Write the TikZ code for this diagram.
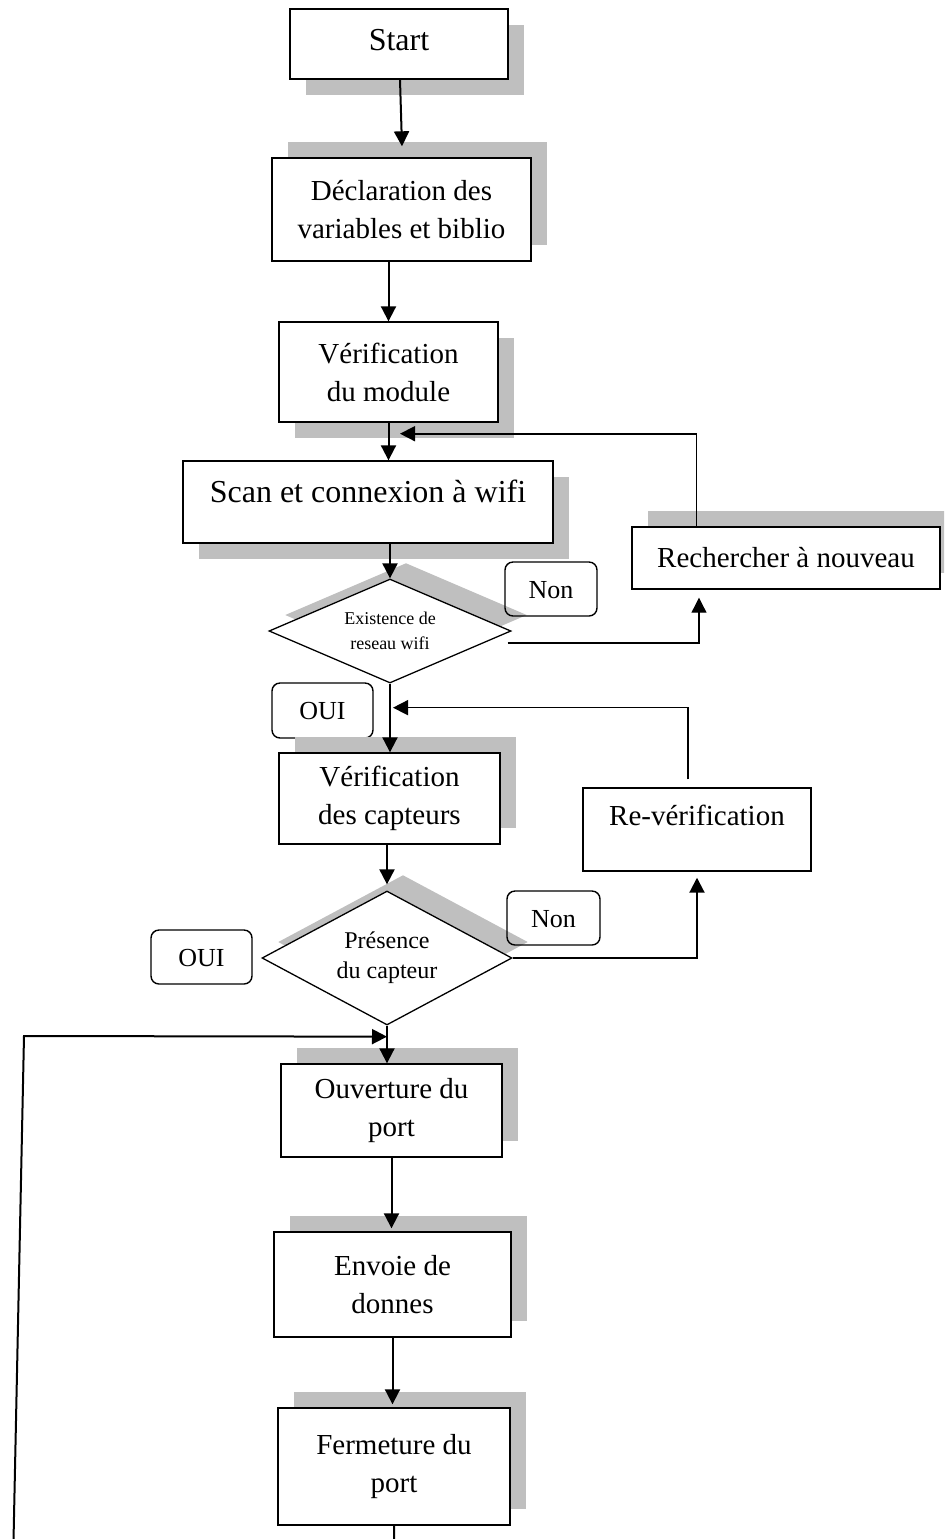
\documentclass[tikz,border=0pt]{standalone}
\usepackage{fontspec}
\setmainfont{Liberation Serif}
\usetikzlibrary{shapes.geometric,shadows,arrows.meta,calc}
\definecolor{shadowgray}{RGB}{191,191,191}

\begin{document}
\begin{tikzpicture}[x=0.5pt,y=-0.5pt,
  box/.style={draw, line width=0.7pt, fill=white, inner sep=0pt, align=center,
    font=\fontsize{14.5}{19}\selectfont},
  bigtext/.style={font=\fontsize{16}{19}\selectfont},
  shup/.style={drop shadow={shadow xshift=8pt, shadow yshift=8pt, fill=shadowgray, opacity=1}},
  shdown/.style={drop shadow={shadow xshift=8pt, shadow yshift=-7.75pt, fill=shadowgray, opacity=1}},
  decision/.style={diamond, draw, line width=0.65pt, fill=white, inner sep=0pt, align=center},
  tag/.style={draw, rounded corners=4pt, line width=0.7pt, inner sep=0pt,
    font=\fontsize{13}{15}\selectfont, text height=9pt, text depth=0pt},
  flow/.style={-{Triangle[length=7.5pt,width=7.5pt]}, line width=1pt},
  back/.style={-{Triangle[length=7.5pt,width=7.5pt]}, line width=0.8pt},
  branch/.style={-{Triangle[length=7.5pt,width=7.5pt]}, line width=0.6pt},
]
\useasboundingbox (0,0) rectangle (944,1539);
\clip (0,0) rectangle (944,1539);

% process boxes
\node[box, bigtext, shdown, minimum width=109pt, minimum height=35pt,
      text height=8pt, text depth=2pt] (start) at (399,44) {Start};
\node[box, shup, minimum width=129.5pt, minimum height=51.5pt] (decl) at (401.5,209.5)
  {Déclaration des\\variables et biblio};
\node[box, shdown, minimum width=109.5pt, minimum height=50pt] (module) at (388.5,372)
  {Vérification\\du module};
\node[box, bigtext, shdown, minimum width=185pt, minimum height=41pt,
      text height=12pt, text depth=12pt] (scan) at (368,502) {Scan et connexion à wifi};
\node[box, shup, minimum width=154pt, minimum height=31pt,
      text height=9pt, text depth=0pt] (recherche) at (786,558) {Rechercher à nouveau};

% first decision
\node[decision, shup, aspect=2.33, minimum width=121pt, minimum height=52pt,
      font=\fontsize{9}{12.5}\selectfont] (d1) at (390,631) {Existence de\\reseau wifi};
\node[tag, minimum width=46pt, minimum height=27pt] (non1) at (551,589) {Non};
\node[tag, minimum width=50.5pt, minimum height=27.5pt] (oui1) at (322.5,710.5) {OUI};

\node[box, shup, minimum width=110.5pt, minimum height=45.5pt] (capteurs) at (389.5,798.5)
  {Vérification\\des capteurs};
\node[box, minimum width=114pt, minimum height=41.5pt,
      text height=10pt, text depth=14.5pt] (reverif) at (697,829.5) {Re-vérification};

% second decision
\node[decision, shup, aspect=1.87, minimum width=125pt, minimum height=67pt,
      font=\fontsize{12}{15}\selectfont] (d2) at (387,958) {Présence\\du capteur};
\node[tag, minimum width=46.5pt, minimum height=27pt] (non2) at (553.5,918) {Non};
\node[tag, minimum width=50.5pt, minimum height=27pt] (oui2) at (201.5,957) {OUI};

\node[box, shup, minimum width=110.5pt, minimum height=46.5pt] (ouverture) at (391.5,1110.5)
  {Ouverture du\\port};
\node[box, shup, minimum width=118.5pt, minimum height=52.5pt] (envoie) at (392.5,1284.5)
  {Envoie de\\donnes};
\node[box, shup, minimum width=116pt, minimum height=58.5pt] (fermeture) at (394,1466.5)
  {Fermeture du\\port};

% corners of the outer loop
\coordinate (loopbl) at (12.9,1570);
\coordinate (looptl) at (24,1036);

% main flow
\draw[flow] ($(start.south)+(1,0)$) -- ($(decl.north)+(0.5,-11)$);
\draw[flow] (decl.south -| module.north) -- (module.north);
\draw[flow] (module.south) -- (module.south |- scan.north);
\draw[flow] (scan.south -| d1.north) -- (d1.north);
\draw[flow] (d1.south) -- (d1.south |- capteurs.north);
\draw[flow] (capteurs.south -| d2.north) -- ($(d2.north)+(0,-6)$);
\draw[flow] (d2.south) -- (d2.south |- ouverture.north);
\draw[flow] (ouverture.south) -- ($(ouverture.south |- envoie.north)+(0,-3)$);
\draw[flow] (envoie.south) -- ($(envoie.south |- fermeture.north)+(0,-3)$);

% branches and return paths
\draw[branch] ($(d1.east)+(-4,12)$) -| ($(recherche.south)+(-87,8)$);
\draw[back] ($(recherche.north west)+(65,0)$) |- ($(module.south)+(11.5,11)$);
\draw[flow] (d2.east) -| ($(reverif.south)+(0,6)$);
\draw[back] ($(reverif.north)+(-9,-8)$) |- ($(d1.south)+(3,24)$);

% outer loop back to the port opening
\draw[flow] (fermeture.south) -- (fermeture.south |- loopbl) -- (loopbl) -- (looptl)
  -- ($(d2.south)+(0,11)$);
\end{tikzpicture}
\end{document}
